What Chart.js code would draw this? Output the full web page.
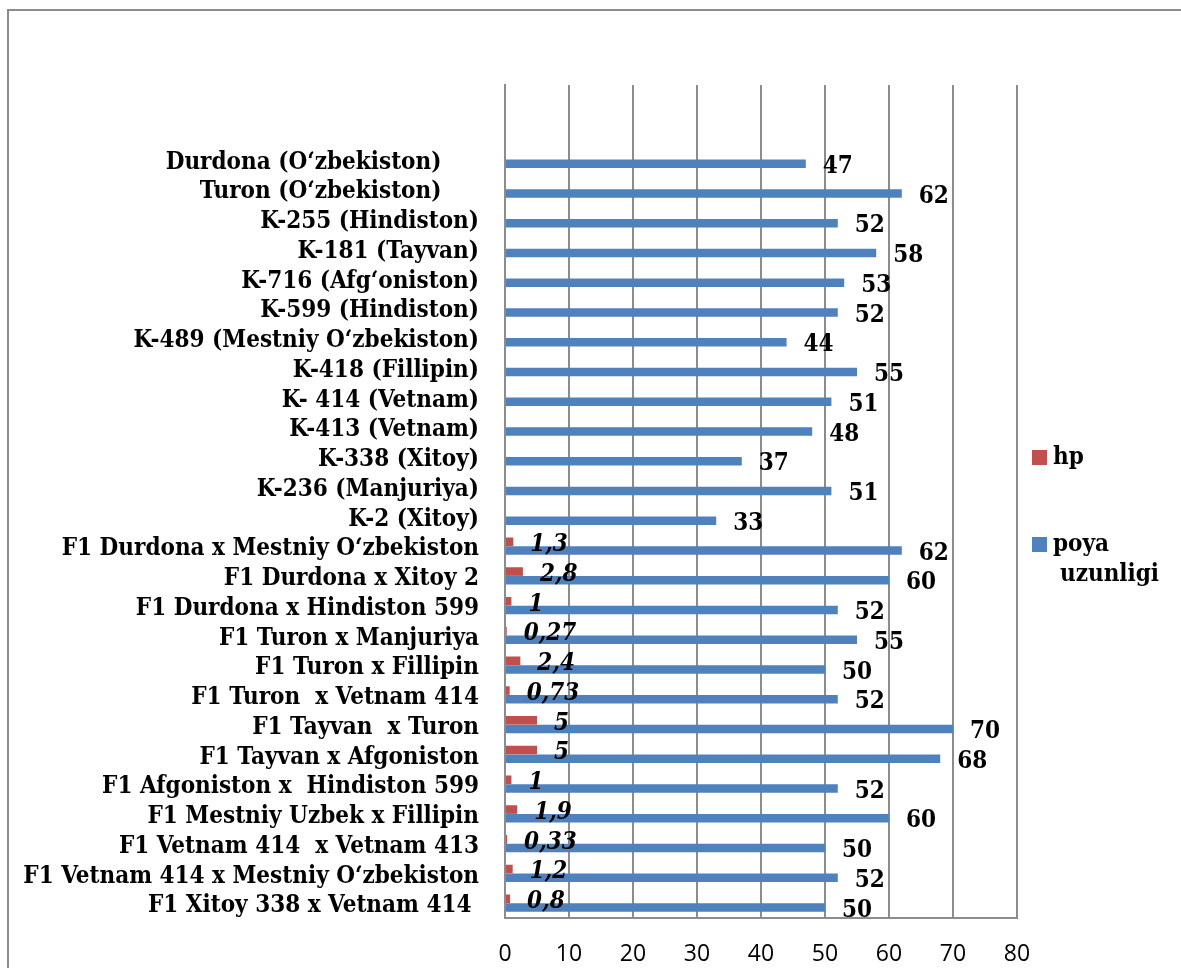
<!DOCTYPE html>
<html>
<head>
<meta charset="utf-8">
<title>hp va poya uzunligi</title>
<script src="https://cdn.jsdelivr.net/npm/chart.js@4"></script>
<style>
  body { margin: 0; background: #fff; overflow: hidden; }
  #wrap { position: relative; width: 1181px; height: 968px; }
  #frame { position: absolute; left: 7px; top: 9px; width: 1400px; height: 1400px; border: 2px solid #8c8c8c; }
  canvas { position: absolute; left: 0; top: 0; }
</style>
</head>
<body>
<div id="wrap">
  <div id="frame"></div>
  <canvas id="chart" width="1181" height="968"></canvas>
</div>
<script>
// Navlar (yuqoridan pastga), ikkita bo'sh qator tepada
const navlar = [
  '', '',
  'Durdona (O‘zbekiston)     ',
  'Turon (O‘zbekiston)     ',
  'K-255 (Hindiston)',
  'K-181 (Tayvan)',
  'K-716 (Afg‘oniston)',
  'K-599 (Hindiston)',
  'K-489 (Mestniy O‘zbekiston)',
  'K-418 (Fillipin)',
  'K- 414 (Vetnam)',
  'K-413 (Vetnam)',
  'K-338 (Xitoy)',
  'K-236 (Manjuriya)',
  'K-2 (Xitoy)',
  'F1 Durdona x Mestniy O‘zbekiston',
  'F1 Durdona x Xitoy 2',
  'F1 Durdona x Hindiston 599',
  'F1 Turon x Manjuriya',
  'F1 Turon x Fillipin',
  'F1 Turon  x Vetnam 414',
  'F1 Tayvan  x Turon',
  'F1 Tayvan x Afgoniston',
  'F1 Afgoniston x  Hindiston 599',
  'F1 Mestniy Uzbek x Fillipin',
  'F1 Vetnam 414  x Vetnam 413',
  'F1 Vetnam 414 x Mestniy O‘zbekiston',
  'F1 Xitoy 338 x Vetnam 414 '
];
const hp = [
  null, null,
  null, null, null, null, null, null, null, null, null, null, null, null, null,
  1.3, 2.8, 1, 0.27, 2.4, 0.73, 5, 5, 1, 1.9, 0.33, 1.2, 0.8
];
const poyaUzunligi = [
  null, null,
  47, 62, 52, 58, 53, 52, 44, 55, 51, 48, 37, 51, 33,
  62, 60, 52, 55, 50, 52, 70, 68, 52, 60, 50, 52, 50
];
const xTicks = { min: 0, max: 80, step: 10 };

const serif = '"DejaVu Serif Condensed", "DejaVu Serif", serif';

// Qiymatlar yozuvi (vergul bilan)
const valueLabels = {
  id: 'valueLabels',
  afterDatasetsDraw(chart) {
    const ctx = chart.ctx;
    ctx.save();
    ctx.fillStyle = '#000';
    ctx.textAlign = 'left';
    ctx.textBaseline = 'middle';
    chart.data.datasets.forEach((ds, di) => {
      const meta = chart.getDatasetMeta(di);
      ctx.font = (di === 0 ? 'italic bold ' : 'bold ') + '24px ' + serif;
      meta.data.forEach((bar, i) => {
        const v = ds.data[i];
        if (v === null || v === undefined) return;
        ctx.fillText(String(v).replace('.', ','), bar.x + 17, bar.y + 3);
      });
    });
    ctx.restore();
  }
};

// Legenda o'ng tomonda
const sideLegend = {
  id: 'sideLegend',
  afterDraw(chart) {
    const ctx = chart.ctx;
    const x = chart.chartArea.right + 15;
    const rows = [457, 544];
    ctx.save();
    ctx.font = 'bold 24px ' + serif;
    ctx.textBaseline = 'middle';
    ctx.textAlign = 'left';
    chart.data.datasets.forEach((ds, i) => {
      const y = rows[i];
      ctx.fillStyle = ds.backgroundColor;
      ctx.fillRect(x, y - 7, 15, 15);
      ctx.fillStyle = '#000';
      // so'zlarni qatorlarga bo'lish
      const words = ds.label.split(' ');
      let line = '', lines = [];
      words.forEach(w => {
        const t = line ? line + ' ' + w : w;
        if (ctx.measureText(t).width > 1181 - x - 28 && line) { lines.push(line); line = w; }
        else line = t;
      });
      lines.push(line);
      lines.forEach((l, k) => ctx.fillText(l, x + 21 + (k ? 7 : 0), y + 1 + k * 30));
    });
    ctx.restore();
  }
};

new Chart(document.getElementById('chart'), {
  type: 'bar',
  data: {
    labels: navlar,
    datasets: [
      { label: 'hp', data: hp, backgroundColor: '#C0504D' },
      { label: 'poya uzunligi', data: poyaUzunligi, backgroundColor: '#4F81BD' }
    ]
  },
  options: {
    indexAxis: 'y',
    responsive: false,
    animation: false,
    categoryPercentage: 0.58,
    barPercentage: 1.0,
    layout: { padding: { top: 85, right: 164, left: 0, bottom: 0 } },
    plugins: { legend: { display: false }, tooltip: { enabled: false } },
    scales: {
      x: {
        min: xTicks.min, max: xTicks.max,
        afterFit(s) { s.height = 50; },
        ticks: { stepSize: xTicks.step, color: '#000', padding: 23, font: { family: '"Open Sans", sans-serif', size: 23 } },
        grid: { color: '#8c8c8c', lineWidth: 2, drawTicks: false },
        border: { color: '#8c8c8c', width: 2 }
      },
      y: {
        afterFit(s) { s.width = 505; },
        ticks: { autoSkip: false, color: '#000', padding: 26, labelOffset: 3, font: { family: serif, size: 24, weight: 'bold' } },
        grid: { display: false, drawTicks: false },
        border: { color: '#8c8c8c', width: 2 }
      }
    }
  },
  plugins: [valueLabels, sideLegend]
});
</script>
</body>
</html>
